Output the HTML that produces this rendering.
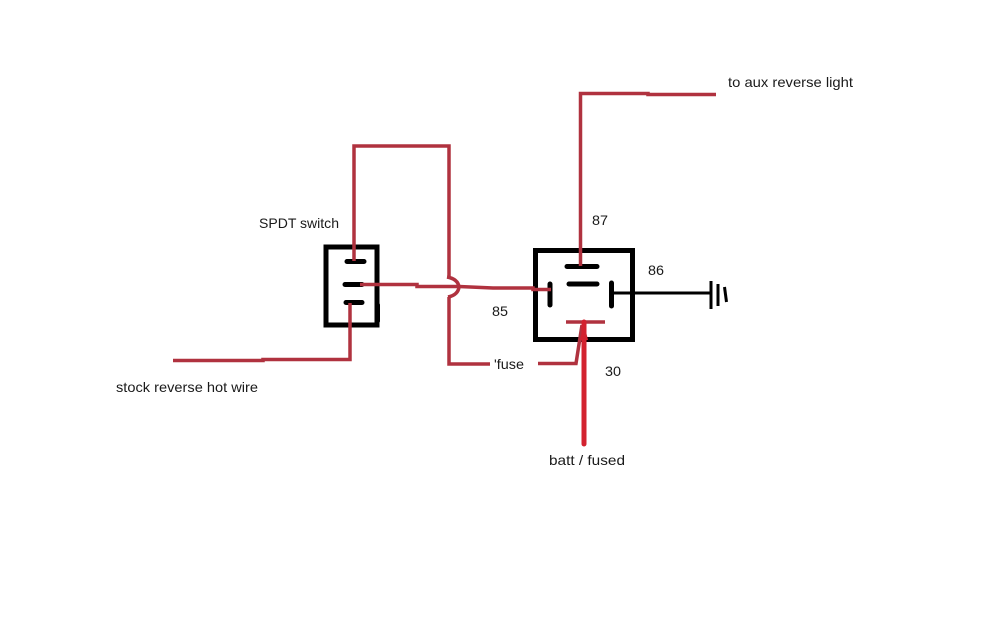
<!DOCTYPE html>
<html>
<head>
<meta charset="utf-8">
<style>
html,body{margin:0;padding:0;background:#fff;width:1008px;height:630px;overflow:hidden}
svg{display:block}
text{font-family:"Liberation Sans",sans-serif;font-size:14px;fill:#1a1a1a}
</style>
</head>
<body>
<svg width="1008" height="630" viewBox="0 0 1008 630" xmlns="http://www.w3.org/2000/svg">
<rect width="1008" height="630" fill="#fff"/>
<!-- switch -->
<rect x="326" y="247" width="51" height="78" fill="none" stroke="#000" stroke-width="5"/>
<g stroke="#000" stroke-linecap="round" fill="none">
<path d="M347 261.500H364" stroke-width="5"/>
<path d="M345 284.500H362" stroke-width="5"/>
<path d="M346 302.500H362" stroke-width="5"/>
<path d="M378 305V321" stroke-width="4"/>
</g>
<!-- relay -->
<rect x="535.500" y="250.500" width="97" height="89" fill="none" stroke="#000" stroke-width="5"/>
<g stroke="#000" stroke-linecap="round" fill="none">
<path d="M567 266.500H597" stroke-width="5"/>
<path d="M569 284H597" stroke-width="5"/>
<path d="M550 284V305" stroke-width="5"/>
<path d="M611.500 283V306" stroke-width="5"/>
</g>
<path d="M611 293H711" stroke="#000" stroke-width="3" fill="none"/>
<path d="M711 281V309" stroke="#000" stroke-width="3" fill="none"/>
<path d="M718 284V306" stroke="#000" stroke-width="3" fill="none"/>
<path d="M724.500 287L726.500 302" stroke="#000" stroke-width="3" fill="none"/>
<!-- dark red wires -->
<g stroke="#b0323f" stroke-width="3.500" fill="none">
<path d="M354 261V146H449V277"/>
<path d="M360 284.500H417V286.500H459L493 288H533V289.500H551"/>
<path d="M447 277Q458 279 459 287Q458 295 448 297"/>
<path d="M449 297V364H490"/>
<path d="M350 303V359.500H263V360.500H173"/>
<path d="M580.500 266V93.500H648V94.500H716"/>
<path d="M538 363.500H576L582 325"/>
<path d="M566 322H605"/>
</g>
<!-- bright red -->
<path d="M584 322V444" stroke="#d3222f" stroke-width="5" stroke-linecap="round" fill="none"/>
<path d="M580 340L584 323L588 340Z" fill="#d3222f"/>
<!-- labels -->
<text x="259" y="228" textLength="80" lengthAdjust="spacingAndGlyphs">SPDT switch</text>
<text x="116" y="392" textLength="142" lengthAdjust="spacingAndGlyphs">stock reverse hot wire</text>
<text x="728" y="87" textLength="125" lengthAdjust="spacingAndGlyphs">to aux reverse light</text>
<text x="592" y="225" textLength="16" lengthAdjust="spacingAndGlyphs">87</text>
<text x="648" y="275" textLength="16" lengthAdjust="spacingAndGlyphs">86</text>
<text x="492" y="316" textLength="16" lengthAdjust="spacingAndGlyphs">85</text>
<text x="605" y="376" textLength="16" lengthAdjust="spacingAndGlyphs">30</text>
<text x="494" y="369" textLength="30" lengthAdjust="spacingAndGlyphs">'fuse</text>
<text x="549" y="465" textLength="76" lengthAdjust="spacingAndGlyphs">batt / fused</text>
</svg>
</body>
</html>
